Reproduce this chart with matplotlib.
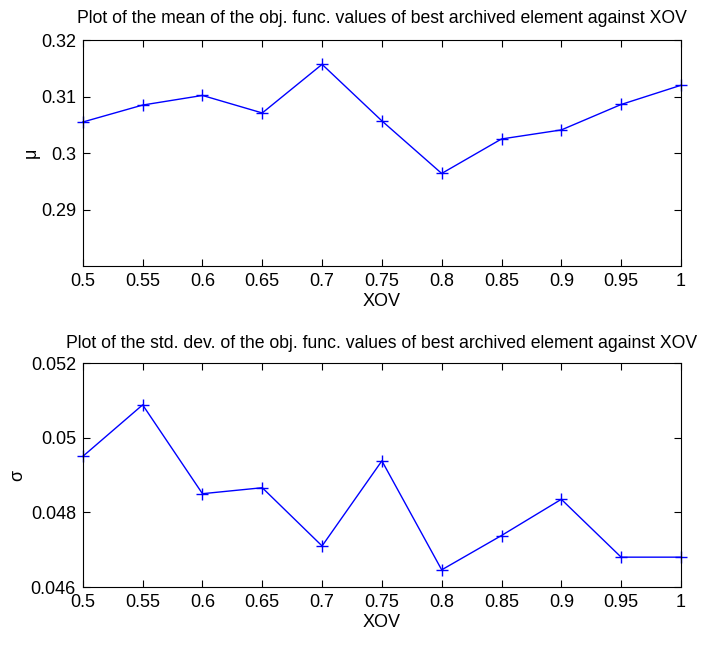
import matplotlib
matplotlib.use('Agg')
from matplotlib import pyplot as plt
from matplotlib import font_manager

# MATLAB-like look: narrow sans, ticks pointing in, box on
names = {f.name for f in font_manager.fontManager.ttflist}
narrow = 'Liberation Sans Narrow' if 'Liberation Sans Narrow' in names else 'Liberation Sans'
plt.rcParams['font.family'] = [narrow, 'DejaVu Sans']
plt.rcParams['xtick.direction'] = 'in'
plt.rcParams['ytick.direction'] = 'in'
plt.rcParams['xtick.top'] = True
plt.rcParams['ytick.right'] = True

xov = [0.5, 0.55, 0.6, 0.65, 0.7, 0.75, 0.8, 0.85, 0.9, 0.95, 1.0]
mu = [0.3055, 0.3085, 0.3102, 0.3071, 0.3157, 0.3057, 0.2964, 0.3025, 0.3041, 0.3086, 0.3120]
sigma = [0.04950, 0.05088, 0.04850, 0.04866, 0.04710, 0.04938, 0.04646, 0.04738, 0.04835, 0.04680, 0.04680]

xticks = [0.5, 0.55, 0.6, 0.65, 0.7, 0.75, 0.8, 0.85, 0.9, 0.95, 1]
xticklabels = ['0.5', '0.55', '0.6', '0.65', '0.7', '0.75', '0.8', '0.85', '0.9', '0.95', '1']

fig = plt.figure(figsize=(7.02, 6.46), dpi=100)
ax1 = fig.add_axes([0.118, 0.588, 0.852, 0.350])
ax2 = fig.add_axes([0.118, 0.0913, 0.852, 0.3467])


def style(ax):
    ax.set_xlim(0.5, 1.0)
    ax.set_xticks(xticks)
    ax.set_xticklabels(xticklabels)
    ax.tick_params(labelsize=13, length=5, width=0.8, pad=5)
    for s in ax.spines.values():
        s.set_linewidth(0.8)
    ax.set_xlabel('XOV', fontsize=13, labelpad=2)


ax1.plot(xov, mu, color='#0000ff', lw=1, marker='+', ms=9, mew=1, clip_on=False)
style(ax1)
ax1.set_ylim(0.28, 0.32)
ax1.set_yticks([0.29, 0.30, 0.31, 0.32])
ax1.set_yticklabels(['0.29', '0.3', '0.31', '0.32'])
ax1.set_ylabel('μ', fontsize=13, labelpad=1)
ax1.set_title('Plot of the mean of the obj. func. values of best archived element against XOV',
              fontsize=12.7, pad=12)

ax2.plot(xov, sigma, color='#0000ff', lw=1, marker='+', ms=9, mew=1, clip_on=False)
style(ax2)
ax2.set_ylim(0.046, 0.052)
ax2.set_yticks([0.046, 0.048, 0.050, 0.052])
ax2.set_yticklabels(['0.046', '0.048', '0.05', '0.052'])
ax2.set_ylabel('σ', fontsize=13, labelpad=3)
ax2.set_title('Plot of the std. dev. of the obj. func. values of best archived element against XOV',
              fontsize=12.7, pad=11)

fig.savefig('out.png', dpi=100)
